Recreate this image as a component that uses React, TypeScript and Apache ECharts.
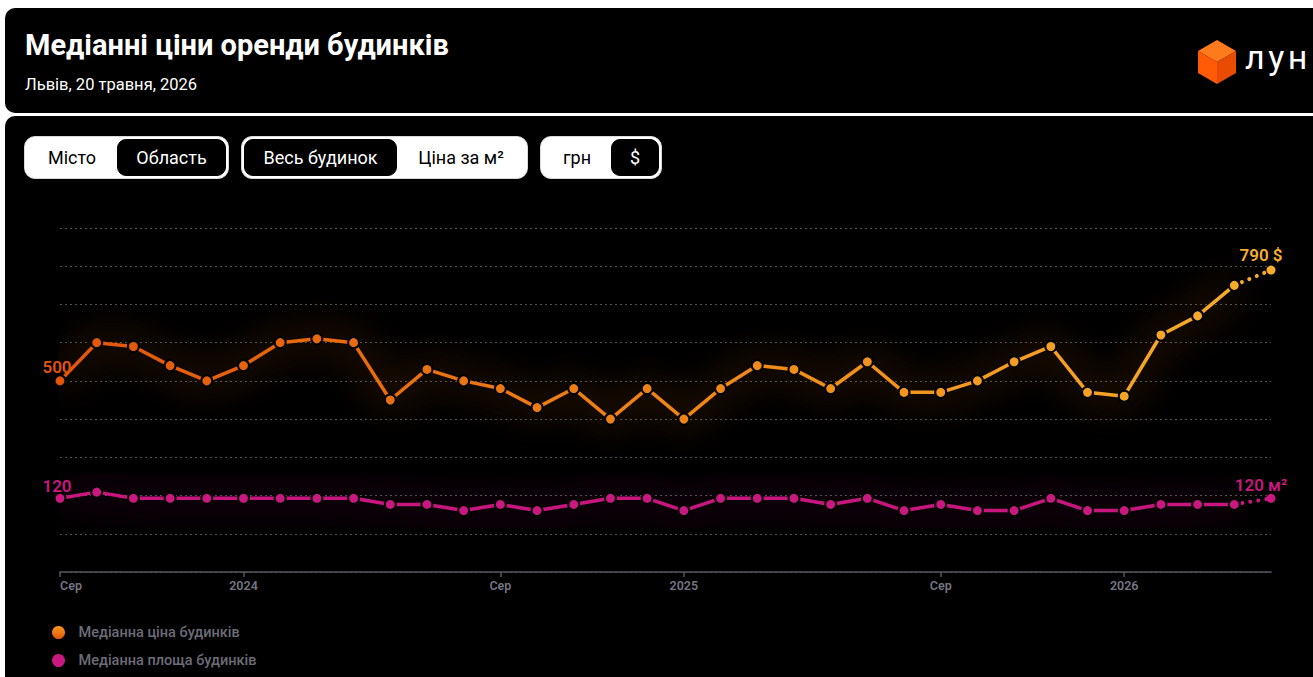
import React, { useEffect, useRef } from "react";
import * as echarts from "echarts";

const FONT = 'Roboto, "Noto Sans", "DejaVu Sans", sans-serif';

// Months from Aug 2023 to May 2026
const months = [
  "2023-08", "2023-09", "2023-10", "2023-11", "2023-12",
  "2024-01", "2024-02", "2024-03", "2024-04", "2024-05", "2024-06",
  "2024-07", "2024-08", "2024-09", "2024-10", "2024-11", "2024-12",
  "2025-01", "2025-02", "2025-03", "2025-04", "2025-05", "2025-06",
  "2025-07", "2025-08", "2025-09", "2025-10", "2025-11", "2025-12",
  "2026-01", "2026-02", "2026-03", "2026-04", "2026-05",
];

// Median house rent price, $
const priceUsd = [
  500, 600, 590, 540, 500, 540, 600, 610, 600, 450, 530, 500,
  480, 430, 480, 400, 480, 400, 480, 540, 530, 480, 550,
  470, 470, 500, 550, 590, 470, 460, 620, 670, 750, 790,
];

// Median house area, m²
const areaM2 = [
  120, 130, 120, 120, 120, 120, 120, 120, 120, 110, 110, 100,
  110, 100, 110, 120, 120, 100, 120, 120, 120, 110, 120,
  100, 110, 100, 100, 120, 100, 100, 110, 110, 110, 120,
];

const tickMonths = ["2023-08", "2024-01", "2024-08", "2025-01", "2025-08", "2026-01"];
const tickLabels = ["Сер", "2024", "Сер", "2025", "Сер", "2026"];

const seriesNames = ["Медіанна ціна будинків", "Медіанна площа будинків"];

const ORANGE_STOPS = ["#e2540a", "#ef8418", "#f7ae2c"];
const PINK = "#c9187f";

function buildOption(): echarts.EChartsOption {
  const last = months.length - 1;
  const isTick = (i: number) => tickMonths.indexOf(months[i]) >= 0;

  const labelBase = { fontSize: 17, fontWeight: 600, fontFamily: FONT };

  const priceMain = priceUsd.map((v, i) => {
    if (i === last) return null;
    if (i === 0)
      return {
        value: v,
        label: {
          show: true,
          position: "top",
          distance: 0,
          offset: [-3, 1],
          formatter: "{c}",
          color: ORANGE_STOPS[0],
          ...labelBase,
        },
      };
    return v;
  });
  const priceTail = priceUsd.map((v, i) => {
    if (i < last - 1) return null;
    if (i === last - 1) return { value: v, symbolSize: 0 };
    return {
      value: v,
      symbolSize: 9,
      itemStyle: { borderWidth: 0 },
      label: {
        show: true,
        position: "top",
        distance: 2,
        offset: [-10, 0],
        formatter: "{c} $",
        color: ORANGE_STOPS[2],
        ...labelBase,
      },
    };
  });
  const areaMain = areaM2.map((v, i) => {
    if (i === last) return null;
    if (i === 0)
      return {
        value: v,
        label: {
          show: true,
          position: "top",
          distance: 0,
          offset: [-3, 3],
          formatter: "{c}",
          color: PINK,
          ...labelBase,
        },
      };
    return v;
  });
  const areaTail = areaM2.map((v, i) => {
    if (i < last - 1) return null;
    if (i === last - 1) return { value: v, symbolSize: 0 };
    return {
      value: v,
      symbolSize: 9,
      itemStyle: { borderWidth: 0 },
      label: {
        show: true,
        position: "top",
        distance: 2,
        offset: [-10, 2],
        formatter: "{c} м²",
        color: PINK,
        ...labelBase,
      },
    };
  });

  const orangeGrad = new echarts.graphic.LinearGradient(0, 0, 0, 1, [
    { offset: 0, color: "#f79a22" },
    { offset: 1, color: "#e2540a" },
  ]);

  const dotted = { width: 4, type: [0.1, 8] as any, cap: "round" as const };

  return {
    animation: false,
    backgroundColor: "transparent",
    grid: { left: 60, right: 42, top: 228, bottom: 105 },
    visualMap: [
      {
        type: "continuous",
        show: false,
        seriesIndex: [0, 1],
        dimension: 0,
        min: 0,
        max: last,
        inRange: { color: ORANGE_STOPS },
      },
    ],
    legend: {
      orient: "vertical",
      left: 47,
      top: 620,
      itemGap: 13,
      itemWidth: 30,
      itemHeight: 13,
      icon: "circle",
      textStyle: { color: "#6c6c79", fontSize: 14.5, fontWeight: 500, fontFamily: FONT },
      data: [
        { name: seriesNames[0], itemStyle: { color: orangeGrad, borderWidth: 0 } },
        { name: seriesNames[1], itemStyle: { color: PINK, borderWidth: 0 } },
      ],
    },
    xAxis: {
      type: "category",
      data: months,
      boundaryGap: false,
      axisLine: { lineStyle: { color: "#55555f", width: 1.5 } },
      axisTick: {
        show: true,
        interval: (i: number) => isTick(i),
        length: 5,
        lineStyle: { color: "#55555f", width: 1.5 },
      },
      axisLabel: {
        interval: (i: number) => isTick(i),
        formatter: (val: string) => {
          const k = tickMonths.indexOf(val);
          return k >= 0 ? tickLabels[k] : "";
        },
        alignMinLabel: "left",
        color: "#757582",
        fontSize: 12.5,
        fontWeight: 600,
        fontFamily: FONT,
        margin: 7,
      },
      splitLine: { show: false },
    } as any,
    yAxis: [
      {
        type: "value",
        min: 0,
        max: 900,
        interval: 100,
        axisLabel: { show: false },
        axisLine: { show: false },
        axisTick: { show: false },
        splitLine: {
          show: true,
          lineStyle: { color: "rgba(255,255,255,0.32)", type: [2, 3], width: 1 },
        },
      },
      {
        type: "value",
        min: 0,
        max: 560,
        show: false,
        splitLine: { show: false },
      },
    ],
    series: [
      {
        name: "price-tail",
        type: "line",
        yAxisIndex: 0,
        data: priceTail as any,
        symbol: "circle",
        lineStyle: dotted,
        itemStyle: { borderWidth: 0 },
        z: 2,
        emphasis: { disabled: true },
        silent: true,
      },
      {
        name: seriesNames[0],
        type: "line",
        yAxisIndex: 0,
        data: priceMain as any,
        symbol: "circle",
        symbolSize: 11,
        showAllSymbol: true,
        lineStyle: {
          width: 3.5,
          shadowBlur: 38,
          shadowColor: "rgba(255,120,0,0.85)",
        },
        itemStyle: { borderColor: "#000", borderWidth: 2 },
        z: 4,
        emphasis: { disabled: true },
      },
      {
        name: "area-tail",
        type: "line",
        yAxisIndex: 1,
        data: areaTail as any,
        symbol: "circle",
        color: PINK,
        lineStyle: { ...dotted, color: PINK },
        itemStyle: { color: PINK, borderWidth: 0 },
        z: 2,
        emphasis: { disabled: true },
        silent: true,
      },
      {
        name: seriesNames[1],
        type: "line",
        yAxisIndex: 1,
        data: areaMain as any,
        symbol: "circle",
        symbolSize: 11,
        showAllSymbol: true,
        color: PINK,
        lineStyle: {
          width: 3.5,
          color: PINK,
          shadowBlur: 38,
          shadowColor: "rgba(200,20,130,0.8)",
        },
        itemStyle: { color: PINK, borderColor: "#000", borderWidth: 2 },
        z: 3,
        emphasis: { disabled: true },
      },
    ],
  };
}

const groupStyle: React.CSSProperties = {
  position: "absolute",
  top: 136,
  height: 43,
  boxSizing: "border-box",
  background: "#fff",
  border: "1px solid #d9d9d9",
  borderRadius: 11,
  padding: 2,
  display: "flex",
  alignItems: "stretch",
  fontSize: 18,
  fontFamily: FONT,
};

function Seg({ label, active, width }: { label: string; active: boolean; width: number }) {
  return (
    <div
      style={{
        width,
        display: "flex",
        alignItems: "center",
        justifyContent: "center",
        borderRadius: 9,
        background: active ? "#000" : "transparent",
        color: active ? "#fff" : "#000",
        border: active ? "1px solid #000" : "1px solid transparent",
        boxSizing: "border-box",
        whiteSpace: "nowrap",
      }}
    >
      {label}
    </div>
  );
}

export default function App() {
  const ref = useRef<HTMLDivElement>(null);
  useEffect(() => {
    if (!ref.current) return;
    const chart = echarts.init(ref.current, null, { renderer: "svg" });
    chart.setOption(buildOption());
    return () => chart.dispose();
  }, []);

  return (
    <div
      style={{
        position: "absolute",
        left: 0,
        top: 0,
        width: 1313,
        height: 677,
        background: "#fff",
        overflow: "hidden",
        fontFamily: FONT,
      }}
    >
      <div style={{ position: "absolute", left: 5, top: 8, width: 1360, height: 105, background: "#000", borderRadius: 10 }} />
      <div style={{ position: "absolute", left: 5, top: 116, width: 1360, height: 640, background: "#000", borderRadius: 10 }} />
      <div
        style={{
          position: "absolute",
          left: 25,
          top: 28,
          color: "#fff",
          fontSize: 29,
          fontWeight: 700,
          lineHeight: "34px",
          whiteSpace: "nowrap",
        }}
      >
        Медіанні ціни оренди будинків
      </div>
      <div
        style={{
          position: "absolute",
          left: 25,
          top: 75,
          color: "#fff",
          fontSize: 16.5,
          fontWeight: 400,
          lineHeight: "20px",
          whiteSpace: "nowrap",
        }}
      >
        Львів, 20 травня, 2026
      </div>
      <svg style={{ position: "absolute", left: 1196, top: 39 }} width={42} height={46} viewBox="0 0 42 46">
        <polygon points="21,1 40,12 21,23 2,12" fill="#ff7a1c" />
        <polygon points="2,12 21,23 21,45 2,34" fill="#ff5a06" />
        <polygon points="40,12 40,34 21,45 21,23" fill="#e84b02" />
      </svg>
      <div
        style={{
          position: "absolute",
          left: 1245,
          top: 38,
          color: "#fff",
          fontSize: 34,
          fontWeight: 400,
          lineHeight: "38px",
          letterSpacing: 3.5,
          whiteSpace: "nowrap",
        }}
      >
        лун
      </div>

      <div ref={ref} style={{ position: "absolute", left: 0, top: 0, width: 1313, height: 677 }} />

      <div style={{ ...groupStyle, left: 24, width: 205 }}>
        <Seg label="Місто" active={false} width={90} />
        <Seg label="Область" active={true} width={109} />
      </div>
      <div style={{ ...groupStyle, left: 241, width: 287 }}>
        <Seg label="Весь будинок" active={true} width={153} />
        <Seg label="Ціна за м²" active={false} width={128} />
      </div>
      <div style={{ ...groupStyle, left: 540, width: 122 }}>
        <Seg label="грн" active={false} width={68} />
        <Seg label="$" active={true} width={48} />
      </div>
    </div>
  );
}
